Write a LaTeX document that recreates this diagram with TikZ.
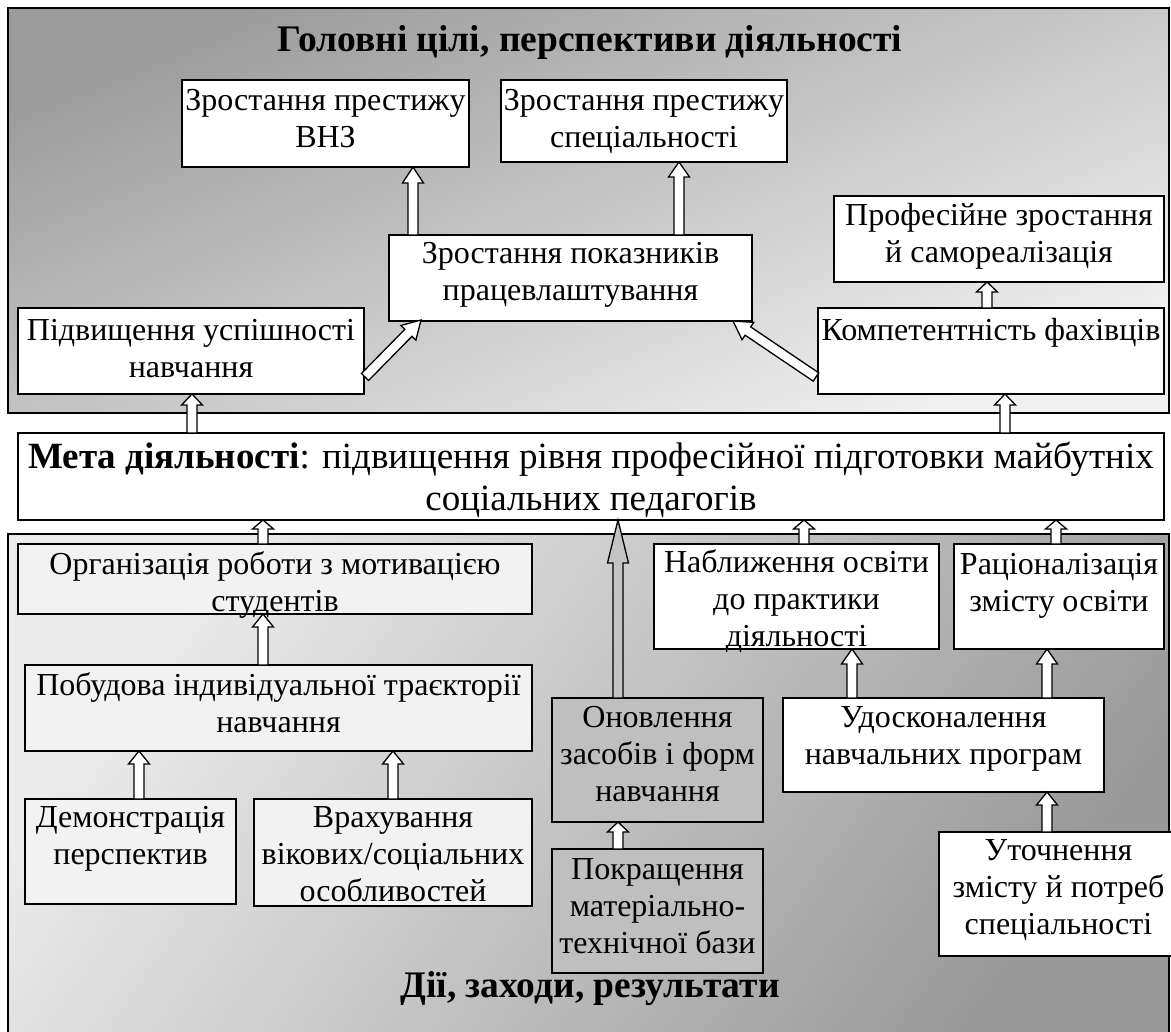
\documentclass[tikz,border=0pt]{standalone}
\usepackage{fontspec}
\setmainfont{Liberation Serif}
\usetikzlibrary{calc}
\definecolor{lightbox}{HTML}{F2F2F2}
\definecolor{midbox}{HTML}{BFBFBF}
\definecolor{grayarrow}{HTML}{C4C4C4}
\definecolor{ptop}{HTML}{9C9C9C}
\definecolor{pbot}{HTML}{F0F0F0}
\definecolor{qtop}{HTML}{ECECEC}
\definecolor{qbot}{HTML}{999999}
\tikzset{
  panel/.style={draw=black, line width=2pt},
  box/.style={draw=black, line width=1.6pt, fill=white, inner sep=0pt, outer sep=0pt},
  txt/.style={font=\fontsize{32}{37}\selectfont, align=center, inner sep=0pt, anchor=north},
  mtxt/.style={font=\fontsize{37}{42}\selectfont, align=center, inner sep=0pt, anchor=north},
  ttl/.style={font=\fontsize{37.5}{42}\selectfont\bfseries, inner sep=0pt, anchor=base},
  arrowline/.style={draw=black, line width=1.3pt, line join=miter},
}
% box: [style]{name}{x1}{y1}{x2}{y2}
\newcommand\bx[6][]{\node[box,#1,anchor=north west,minimum width={#5pt-#3pt},minimum height={#6pt-#4pt}] (#2) at (#3,#4) {};}
% block arrow: {head length}{start}{end}{fill}
\newcommand\barrow[4]{\draw[arrowline, fill=#4]
  ($(#2)!5pt!90:(#3)$) -- ($(#3)!#1!(#2)!5pt!90:(#3)$) -- ($(#3)!#1!(#2)!10.5pt!90:(#3)$) -- (#3)
  -- ($(#3)!#1!(#2)!10.5pt!-90:(#3)$) -- ($(#3)!#1!(#2)!5pt!-90:(#3)$) -- ($(#2)!5pt!-90:(#3)$) -- cycle;}
% vertical block arrow: {head}{from node}{to node}{x}{fill}
\newcommand\varrow[5]{\path (#2.north -| #4,0) coordinate (vs) (#3.south -| #4,0) coordinate (ve);
  \barrow{#1}{vs}{ve}{#5}}
\begin{document}
\begin{tikzpicture}[x=1pt,y=-1pt]
\useasboundingbox (0,0) rectangle (1171,1032);
% panels
\shadedraw[panel, top color=ptop, bottom color=pbot, shading angle=22] (8,8) rectangle (1169,413);
\shadedraw[panel, top color=qtop, bottom color=qbot, shading angle=55] (8,534) rectangle (1169,1040);
% boxes
\bx{vnz}{182}{80}{469}{167}
\bx{spec}{501}{80}{787}{162}
\bx{pok}{389}{235}{752}{321}
\bx{prof}{834}{196}{1164}{282}
\bx{pid}{18}{308}{364}{394}
\bx{komp}{818}{308}{1164}{394}
\bx{meta}{18}{433}{1164}{520}
\bx[fill=lightbox]{org}{18}{544}{532}{614}
\bx[fill=lightbox]{pob}{25}{665}{532}{751}
\bx[fill=lightbox]{dem}{25}{799}{236}{904}
\bx[fill=lightbox]{vrah}{254}{799}{532}{906}
\bx[fill=midbox]{onov}{552}{698}{763}{822}
\bx[fill=midbox]{pokr}{552}{849}{763}{973}
\bx{nab}{654}{544}{939}{649}
\bx{rac}{954}{544}{1164}{649}
\bx{udos}{783}{698}{1104}{792}
\bx{utoch}{939}{832}{1178}{956}
% arrows
\varrow{16pt}{pok}{vnz}{413}{white}
\varrow{15pt}{pok}{spec}{679}{white}
\varrow{10pt}{komp}{prof}{987}{white}
\varrow{11pt}{meta}{pid}{192}{white}
\varrow{11pt}{meta}{komp}{1005}{white}
\varrow{9pt}{org}{meta}{263}{white}
\varrow{13pt}{pob}{org}{263}{white}
\varrow{13pt}{dem}{pob}{139}{white}
\varrow{13pt}{vrah}{pob}{393}{white}
\varrow{43pt}{onov}{meta}{618}{grayarrow}
\varrow{10pt}{pokr}{onov}{618}{white}
\varrow{9pt}{nab}{meta}{804}{white}
\varrow{9pt}{rac}{meta}{1056}{white}
\varrow{15pt}{udos}{nab}{852}{white}
\varrow{15pt}{udos}{rac}{1047}{white}
\varrow{13pt}{utoch}{udos}{1047}{white}
\coordinate (d1s) at ($(pid.south east)+(1,-17)$);
\coordinate (d1e) at ($(pok.south west)+(32,-1)$);
\coordinate (d2s) at ($(komp.south west)+(-2,-17)$);
\coordinate (d2e) at ($(pok.south east)+(-19,0)$);
\barrow{18pt}{d1s}{d1e}{white}
\barrow{18pt}{d2s}{d2e}{white}
% texts
\node[ttl] (title1) at (590,52) {Головні цілі, перспективи діяльності};
\node[ttl] (title2) at (590,997) {Дії, заходи, результати};
\node[txt] (vnz-t) at ($(vnz.north)+(0,4)$) {\strut Зростання престижу\\ВНЗ};
\node[txt] (spec-t) at ($(spec.north)+(0,4)$) {\strut Зростання престижу\\спеціальності};
\node[txt] (pok-t) at ($(pok.north)+(0,2)$) {\strut Зростання показників\\працевлаштування};
\node[txt] (prof-t) at ($(prof.north)+(0,3)$) {\strut Професійне зростання\\й самореалізація};
\node[txt] (pid-t) at ($(pid.north)+(0,6)$) {\strut Підвищення успішності\\навчання};
\node[txt] (komp-t) at ($(komp.north)+(0,6)$) {\strut Компетентність фахівців};
\node[mtxt] (meta-t) at ($(meta.north)+(0,5.6)$) {\strut\textbf{Мета діяльності}: підвищення рівня професійної підготовки майбутніх\\соціальних педагогів};
\node[txt] (org-t) at ($(org.north)+(0,4)$) {\strut Організація роботи з мотивацією\\студентів};
\node[txt] (pob-t) at ($(pob.north)+(0,4)$) {\strut Побудова індивідуальної траєкторії\\навчання};
\node[txt] (dem-t) at ($(dem.north)+(0,2)$) {\strut Демонстрація\\перспектив};
\node[txt] (vrah-t) at ($(vrah.north)+(0,2)$) {\strut Врахування\\вікових/соціальних\\особливостей};
\node[txt] (onov-t) at ($(onov.north)+(0,3)$) {\strut Оновлення\\засобів і форм\\навчання};
\node[txt] (pokr-t) at ($(pokr.north)+(0,4)$) {\strut Покращення\\матеріально-\\технічної бази};
\node[txt] (nab-t) at ($(nab.north)+(0,2)$) {\strut Наближення освіти\\до практики\\діяльності};
\node[txt] (rac-t) at ($(rac.north)+(0,4)$) {\strut Раціоналізація\\змісту освіти};
\node[txt] (udos-t) at ($(udos.north)+(0,3)$) {\strut Удосконалення\\навчальних програм};
\node[txt] (utoch-t) at ($(utoch.north)+(0,2)$) {\strut Уточнення\\змісту й потреб\\спеціальності};
\end{tikzpicture}
\end{document}
